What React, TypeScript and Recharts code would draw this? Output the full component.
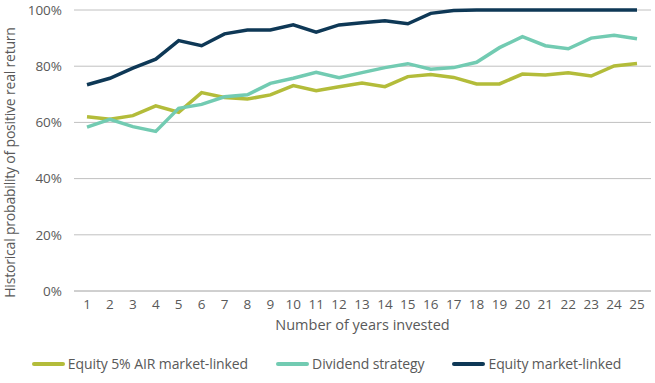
import React from 'react';
import { LineChart, Line, XAxis, YAxis, CartesianGrid, Legend } from 'recharts';

const years = ['1','2','3','4','5','6','7','8','9','10','11','12','13','14','15','16','17','18','19','20','21','22','23','24','25'];
const equityAir = [62.0, 61.1, 62.4, 65.9, 63.6, 70.6, 68.9, 68.3, 69.8, 73.1, 71.3, 72.7, 74.0, 72.7, 76.3, 77.0, 76.0, 73.7, 73.7, 77.2, 76.9, 77.7, 76.5, 80.1, 81.0];
const dividend = [58.3, 61.1, 58.5, 56.8, 65.0, 66.4, 69.1, 69.8, 73.9, 75.7, 77.8, 75.9, 77.7, 79.5, 80.9, 78.9, 79.5, 81.4, 86.6, 90.5, 87.3, 86.2, 90.0, 91.0, 89.8];
const equity = [73.4, 75.7, 79.3, 82.5, 89.1, 87.3, 91.5, 92.9, 92.9, 94.7, 92.1, 94.7, 95.5, 96.2, 95.1, 98.8, 99.8, 100, 100, 100, 100, 100, 100, 100, 100];
const yTicks = [0, 20, 40, 60, 80, 100];

const seriesKeys = ['air', 'div', 'eq'];
const seriesNames = ['Equity 5% AIR market-linked', 'Dividend strategy', 'Equity market-linked'];
const seriesColors = ['#b3bc3a', '#72cbb2', '#0e3856'];
const yTitle = 'Historical probability of positive real return';
const xTitle = 'Number of years invested';

const data = years.map((y, i) => ({ year: y, air: equityAir[i], div: dividend[i], eq: equity[i] }));

const FONT = '"Open Sans", sans-serif';
const TEXT = '#595959';

const renderLegend = () => (
  <div style={{ display: 'flex', justifyContent: 'center', alignItems: 'flex-end', height: 56, paddingLeft: 2, boxSizing: 'border-box', paddingBottom: 4 }}>
    {seriesNames.map((name, i) => (
      <div key={name} style={{ display: 'flex', alignItems: 'center', marginLeft: i === 0 ? 0 : 28, fontFamily: FONT, fontSize: 14, color: TEXT, letterSpacing: -0.1 }}>
        <span style={{ display: 'inline-block', width: 33, height: 4, borderRadius: 2, background: seriesColors[i], marginRight: 3 }} />
        <span>{name}</span>
      </div>
    ))}
  </div>
);

const YTitle = (props: any) => {
  const vb = props.viewBox || {};
  const cx = 9;
  const cy = (vb.y ?? 10) + (vb.height ?? 281) / 2 + 12;
  return (
    <text
      x={cx}
      y={cy}
      transform={`rotate(-90 ${cx} ${cy})`}
      textAnchor="middle"
      dominantBaseline="central"
      fill={TEXT}
      fontFamily={FONT}
      fontSize={14}
      letterSpacing={-0.2}
    >
      {yTitle}
    </text>
  );
};

export default function App() {
  return (
    <div style={{ position: 'absolute', left: 0, top: 0, width: 655, height: 383, background: '#fff' }}>
      <LineChart width={655} height={383} data={data} margin={{ top: 10, right: 4, left: 0, bottom: 6 }}>
        <CartesianGrid vertical={false} stroke="#c0c0c0" strokeWidth={1} />
        <XAxis
          dataKey="year"
          axisLine={{ stroke: '#c0c0c0' }}
          tickLine={false}
          height={30}
          padding={{ left: 13, right: 14 }}
          interval={0}
          tick={{ fill: TEXT, fontFamily: FONT, fontSize: 13.5 }}
          label={{ value: xTitle, position: 'bottom', offset: -1, fill: TEXT, fontFamily: FONT, fontSize: 14.5 }}
        />
        <YAxis
          width={74}
          domain={[0, 100]}
          ticks={yTicks}
          axisLine={false}
          tickLine={false}
          tickMargin={6}
          tickFormatter={(v: number) => `${v}%`}
          tick={{ fill: TEXT, fontFamily: FONT, fontSize: 13.5 }}
          label={{ value: yTitle, content: YTitle }}
        />
        <Legend verticalAlign="bottom" height={56} content={renderLegend} />
        {seriesKeys.map((k, i) => (
          <Line key={k} type="linear" dataKey={k} name={seriesNames[i]} stroke={seriesColors[i]} strokeWidth={3.5} dot={false} isAnimationActive={false} />
        ))}
      </LineChart>
    </div>
  );
}
